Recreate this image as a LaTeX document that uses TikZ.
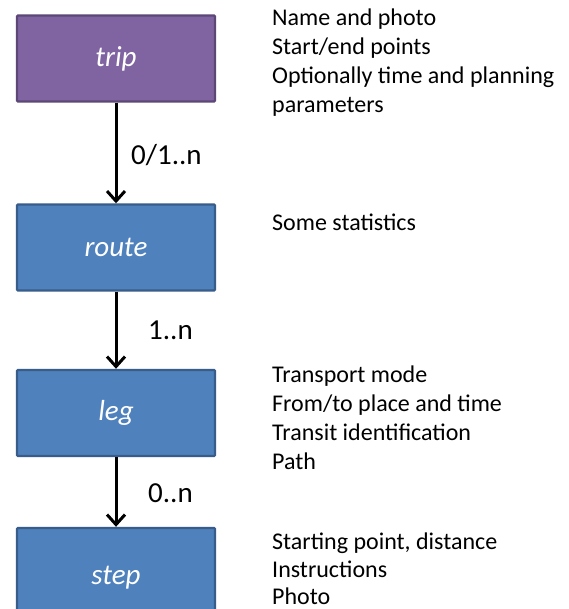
\documentclass[tikz,border=0pt]{standalone}
\usepackage{fontspec}
\setmainfont{Carlito}
\usetikzlibrary{arrows.meta}
\definecolor{purplefill}{HTML}{8064A2}
\definecolor{purpleedge}{HTML}{5C4776}
\definecolor{bluefill}{HTML}{4F81BD}
\definecolor{blueedge}{HTML}{385D8A}
\tikzset{
  ent/.style={draw=blueedge, fill=bluefill, line width=2.4pt, rounded corners=1pt,
    minimum width=198pt, minimum height=86pt, text=white, font=\fontsize{29}{34}\selectfont\itshape, inner sep=0pt},
  entp/.style={ent, draw=purpleedge, fill=purplefill},
  rel/.style={line width=3pt, -{Straight Barb[length=10pt,width=18pt,line width=3pt]}},
  card/.style={font=\fontsize{29}{34}\selectfont, anchor=west, inner sep=0pt},
  info/.style={font=\fontsize{24}{29}\selectfont, anchor=base west, inner sep=0pt}
}
\begin{document}
\begin{tikzpicture}[x=1pt,y=-1pt]
\useasboundingbox (0,0) rectangle (568,609);
\fill[white] (0,0) rectangle (568,609);
\node[entp] (trip) at (116,58.5) {trip};
\node[ent] (route) at (116,247.5) {route};
\node[ent] (leg) at (116,413) {leg};
\node[ent, minimum height=100pt] (step) at (116,578) {step};
\draw[rel] (trip) -- (route);
\draw[rel] (route) -- (leg);
\draw[rel] (leg) -- (step);
\node[card] (c1) at (131,155) {0/1..n};
\node[card] (c2) at (148,330) {1..n};
\node[card] (c3) at (148,493) {0..n};
\node[info] (t1a) at (272,26) {Name and photo};
\node[info] (t1b) at (272,55) {Start/end points};
\node[info] (t1c) at (272,84) {Optionally time and planning};
\node[info] (t1d) at (272,113) {parameters};
\node[info] (t2) at (272,230) {Some statistics};
\node[info] (t3a) at (272,382) {Transport mode};
\node[info] (t3b) at (272,411) {From/to place and time};
\node[info] (t3c) at (272,440) {Transit identification};
\node[info] (t3d) at (272,469) {Path};
\node[info] (t4a) at (272,549) {Starting point, distance};
\node[info] (t4b) at (272,577) {Instructions};
\node[info] (t4c) at (272,604) {Photo};
\end{tikzpicture}
\end{document}
